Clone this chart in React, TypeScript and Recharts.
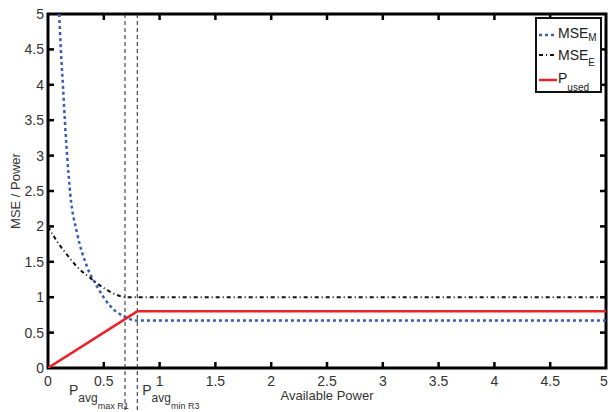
import React from "react";
import { LineChart, Line, XAxis, YAxis, ReferenceLine, ReferenceArea } from "recharts";

const xTicks = [0, 0.5, 1, 1.5, 2, 2.5, 3, 3.5, 4, 4.5, 5];
const yTicks = [0, 0.5, 1, 1.5, 2, 2.5, 3, 3.5, 4, 4.5, 5];

const mseMX = [0.1, 0.115, 0.135, 0.152, 0.172, 0.2, 0.26, 0.35, 0.44, 0.56, 0.68, 0.8, 5];
const mseMY = [5, 4.5, 3.96, 3.47, 2.99, 2.45, 1.91, 1.43, 1.15, 0.87, 0.73, 0.67, 0.67];

const mseEX = [0, 0.08, 0.17, 0.26, 0.38, 0.5, 0.62, 0.69, 5];
const mseEY = [2, 1.79, 1.6, 1.43, 1.27, 1.13, 1.03, 1.0, 1.0];

const pUsedX = [0, 0.8, 5];
const pUsedY = [0, 0.8, 0.8];

const refLines = [
  { x: 0.69, sub: "avg", subsub: "max R1", side: "left" },
  { x: 0.8, sub: "avg", subsub: "min R3", side: "right" },
];

const toPts = (xs: number[], ys: number[]) => xs.map((x, i) => ({ x, y: ys[i] }));
const mseM = toPts(mseMX, mseMY);
const mseE = toPts(mseEX, mseEY);
const pUsed = toPts(pUsedX, pUsedY);

const FONT = "Arial, 'Liberation Sans', Helvetica, sans-serif";
const AX = "#000";
const TICK_LEN = 6;
const GAP = 9;

const makeShape = (sub: string, subsub: string, side: string) => (props: any) => {
  const { x1, y1, x2, y2 } = props;
  const top = Math.min(y1, y2);
  const bot = Math.max(y1, y2);
  const tx = side === "left" ? x1 - 56 : x1 + 5;
  return (
    <g>
      <line x1={x1} y1={top} x2={x2} y2={bot + 44} stroke="#222" strokeWidth={1} strokeDasharray="4 3" />
      <text x={tx} y={bot + 27} fontFamily={FONT} fontSize={14} fill="#333">
        P
        <tspan fontSize={12} dy={7}>{sub}</tspan>
        <tspan fontSize={9} dy={7}>{subsub}</tspan>
      </text>
    </g>
  );
};

const FrameRect = (props: any) => {
  const { x, y, width, height } = props;
  return <rect x={x} y={y} width={width} height={height} fill="none" stroke={AX} strokeWidth={3} />;
};

const VTickShape = (props: any) => {
  const { x1, y1, y2 } = props;
  const top = Math.min(y1, y2);
  const bot = Math.max(y1, y2);
  return (
    <g>
      <rect x={x1 - 1.25} y={bot - TICK_LEN} width={2.5} height={TICK_LEN} fill={AX} />
      <rect x={x1 - 1.25} y={top} width={2.5} height={TICK_LEN} fill={AX} />
    </g>
  );
};
const HTickShape = (props: any) => {
  const { x1, x2, y1 } = props;
  const l = Math.min(x1, x2);
  const r = Math.max(x1, x2);
  return (
    <g>
      <rect x={l} y={y1 - 1.25} width={TICK_LEN} height={2.5} fill={AX} />
      <rect x={r - TICK_LEN} y={y1 - 1.25} width={TICK_LEN} height={2.5} fill={AX} />
    </g>
  );
};

const BottomTick = (props: any) => {
  const { x, y, payload } = props;
  const axisY = y - GAP;
  return (
    <text x={x} y={axisY + 18} textAnchor="middle" fontFamily={FONT} fontSize={14} fill="#333">
      {payload.value}
    </text>
  );
};
const LeftTick = (props: any) => {
  const { x, y, payload } = props;
  const axisX = x + GAP;
  return (
    <text x={axisX - 4} y={y + 5} textAnchor="end" fontFamily={FONT} fontSize={14} fill="#333">
      {payload.value}
    </text>
  );
};

const LegendBox = () => (
  <svg width={67} height={76} style={{ display: "block" }}>
    <rect x={1} y={1} width={65} height={74} fill="#fff" stroke="#111" strokeWidth={2} />
    <line x1={4} y1={18} x2={22} y2={18} stroke="#3b5bb4" strokeWidth={2.5} strokeDasharray="3 3" />
    <text x={23} y={21} fontFamily={FONT} fontSize={14} fill="#222">
      MSE<tspan fontSize={10} dy={3}>M</tspan>
    </text>
    <line x1={4} y1={38} x2={22} y2={38} stroke="#111" strokeWidth={2} strokeDasharray="4 3 1 3" />
    <text x={23} y={43} fontFamily={FONT} fontSize={14} fill="#222">
      MSE<tspan fontSize={10} dy={6}>E</tspan>
    </text>
    <line x1={4} y1={63} x2={22} y2={63} stroke="#e8232a" strokeWidth={2.5} />
    <text x={23} y={66} fontFamily={FONT} fontSize={14} fill="#222">
      P<tspan fontSize={10} dy={8}>used</tspan>
    </text>
  </svg>
);

export default function App() {
  return (
    <div style={{ position: "absolute", left: 0, top: 0, width: 608, height: 412, background: "#fff" }}>
      <LineChart width={608} height={412} margin={{ top: 14, right: 2, bottom: 0, left: 0 }}>
        <XAxis
          xAxisId="b"
          dataKey="x"
          type="number"
          domain={[0, 5]}
          ticks={xTicks}
          allowDataOverflow
          height={44}
          tickSize={0}
          tickMargin={GAP}
          axisLine={false}
          tickLine={false}
          tick={<BottomTick />}
          label={{ value: "Available Power", position: "insideBottom", offset: 12, fill: "#333", fontSize: 13, fontFamily: FONT }}
        />
        <YAxis
          yAxisId="l"
          type="number"
          domain={[0, 5]}
          ticks={yTicks}
          allowDataOverflow
          width={48}
          tickSize={0}
          tickMargin={GAP}
          axisLine={false}
          tickLine={false}
          tick={<LeftTick />}
          label={{ value: "MSE / Power", angle: -90, position: "insideLeft", offset: 15, fill: "#333", fontSize: 13, fontFamily: FONT, style: { textAnchor: "middle" } }}
        />
        <ReferenceArea xAxisId="b" yAxisId="l" x1={0} x2={5} y1={0} y2={5} ifOverflow="visible" shape={FrameRect} />
        {xTicks.slice(1, -1).map((t) => (
          <ReferenceLine key={"vx" + t} xAxisId="b" yAxisId="l" x={t} shape={VTickShape} />
        ))}
        {yTicks.slice(1, -1).map((t) => (
          <ReferenceLine key={"hy" + t} xAxisId="b" yAxisId="l" y={t} shape={HTickShape} />
        ))}
        {refLines.map((r, i) => (
          <ReferenceLine
            key={"ref" + i}
            xAxisId="b"
            yAxisId="l"
            x={r.x}
            stroke="#222"
            shape={makeShape(r.sub, r.subsub, r.side)}
          />
        ))}
        <Line
          xAxisId="b"
          yAxisId="l"
          data={mseM}
          dataKey="y"
          type="monotone"
          stroke="#3b5bb4"
          strokeWidth={2.5}
          strokeDasharray="3 3"
          dot={false}
          isAnimationActive={false}
        />
        <Line
          xAxisId="b"
          yAxisId="l"
          data={mseE}
          dataKey="y"
          type="monotone"
          stroke="#111"
          strokeWidth={2}
          strokeDasharray="4 3 1 3"
          dot={false}
          isAnimationActive={false}
        />
        <Line
          xAxisId="b"
          yAxisId="l"
          data={pUsed}
          dataKey="y"
          type="linear"
          stroke="#e8232a"
          strokeWidth={2.5}
          dot={false}
          isAnimationActive={false}
        />
      </LineChart>
      <div style={{ position: "absolute", left: 535, top: 17 }}>
        <LegendBox />
      </div>
    </div>
  );
}
